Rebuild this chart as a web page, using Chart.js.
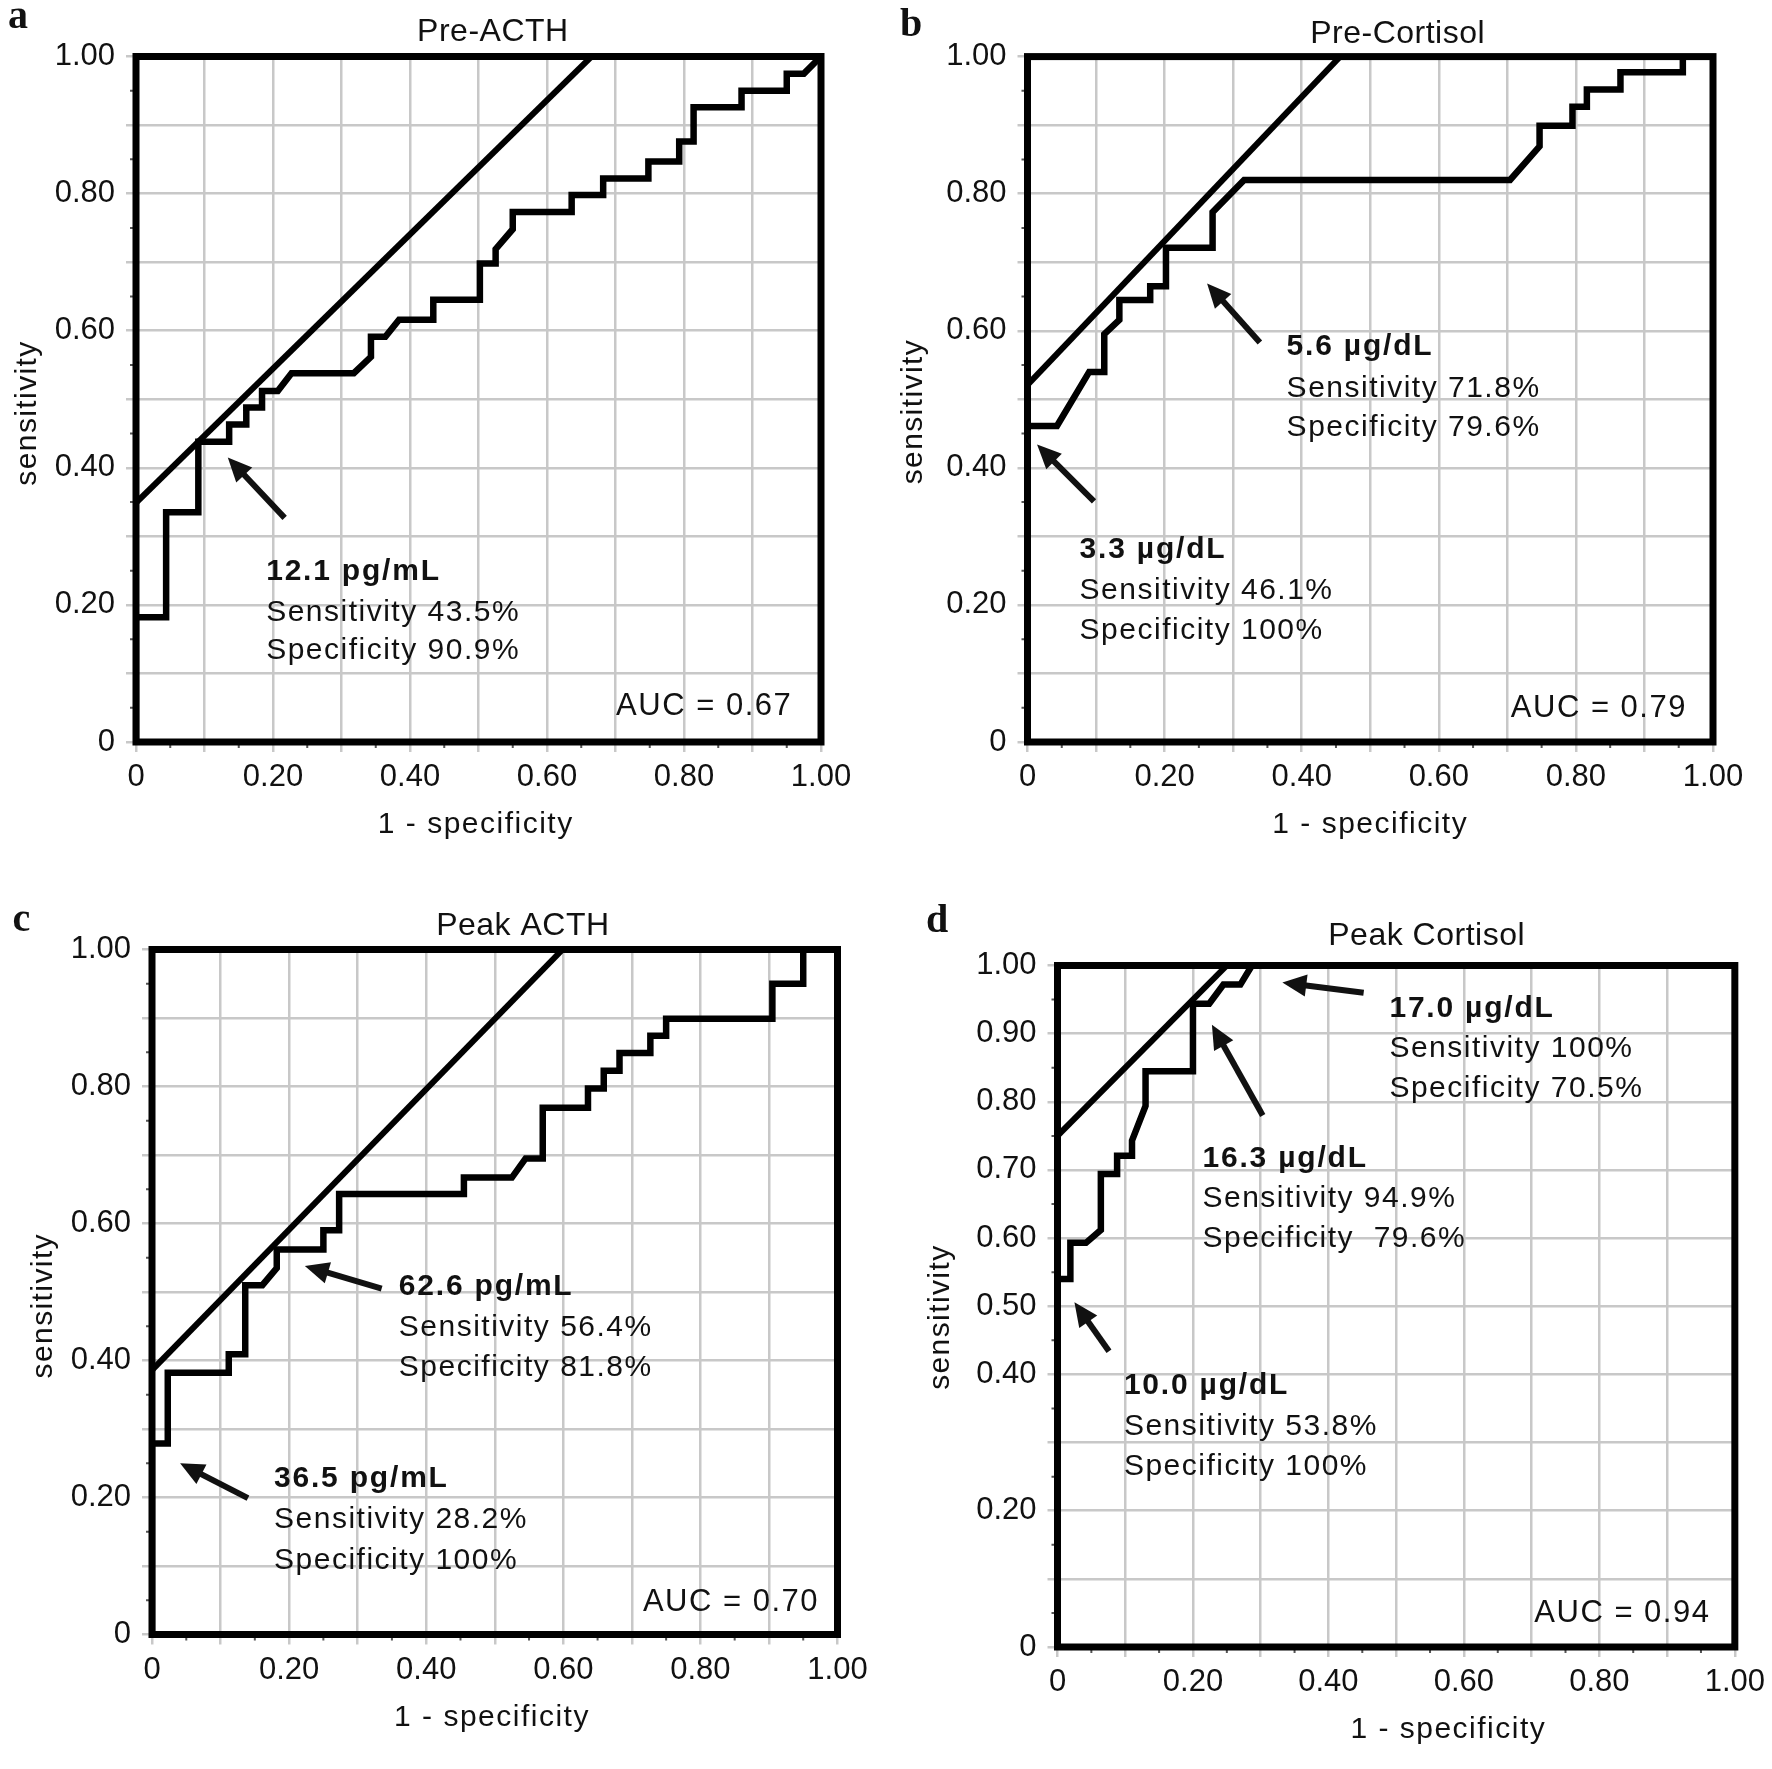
<!DOCTYPE html>
<html>
<head>
<meta charset="utf-8">
<title>ROC curves</title>
<script src="https://cdn.jsdelivr.net/npm/chart.js@4.4.1/dist/chart.umd.min.js"></script>
<style>
  body { margin: 0; background: #fff; }
  .panel { position: absolute; }
</style>
</head>
<body>
<div class="panel" style="left:0;top:0"><canvas id="chartA" width="886" height="885"></canvas></div>
<div class="panel" style="left:886px;top:0"><canvas id="chartB" width="886" height="885"></canvas></div>
<div class="panel" style="left:0;top:885px"><canvas id="chartC" width="886" height="884"></canvas></div>
<div class="panel" style="left:886px;top:885px"><canvas id="chartD" width="886" height="884"></canvas></div>
<script>
// ROC curves: 1 - specificity (fpr) against sensitivity (tpr)
const preActhFpr = [0, 0, 0.044, 0.044, 0.091, 0.091, 0.136, 0.136, 0.161, 0.161, 0.184, 0.184, 0.207, 0.227, 0.318, 0.343, 0.343, 0.364, 0.384, 0.434, 0.434, 0.502, 0.502, 0.525, 0.525, 0.55, 0.55, 0.636, 0.636, 0.682, 0.682, 0.748, 0.748, 0.793, 0.793, 0.814, 0.814, 0.884, 0.884, 0.95, 0.95, 0.975, 1];
const preActhTpr = [0, 0.182, 0.182, 0.335, 0.335, 0.438, 0.438, 0.463, 0.463, 0.488, 0.488, 0.512, 0.512, 0.538, 0.538, 0.562, 0.591, 0.591, 0.616, 0.616, 0.645, 0.645, 0.698, 0.698, 0.719, 0.748, 0.773, 0.773, 0.798, 0.798, 0.822, 0.822, 0.847, 0.847, 0.876, 0.876, 0.926, 0.926, 0.95, 0.95, 0.975, 0.975, 1];

const preCortisolFpr = [0, 0, 0.043, 0.090, 0.112, 0.112, 0.134, 0.134, 0.179, 0.179, 0.202, 0.202, 0.270, 0.270, 0.316, 0.704, 0.747, 0.747, 0.795, 0.795, 0.816, 0.816, 0.865, 0.865, 0.956, 0.956, 1];
const preCortisolTpr = [0, 0.461, 0.461, 0.540, 0.540, 0.595, 0.616, 0.645, 0.645, 0.665, 0.665, 0.721, 0.721, 0.773, 0.820, 0.820, 0.869, 0.899, 0.899, 0.927, 0.927, 0.952, 0.952, 0.977, 0.977, 1, 1];

const peakActhFpr = [0, 0, 0.023, 0.023, 0.112, 0.112, 0.136, 0.136, 0.161, 0.182, 0.182, 0.250, 0.250, 0.273, 0.273, 0.455, 0.455, 0.525, 0.545, 0.570, 0.570, 0.636, 0.636, 0.659, 0.659, 0.682, 0.682, 0.727, 0.727, 0.750, 0.750, 0.905, 0.905, 0.950, 0.950, 1];
const peakActhTpr = [0, 0.279, 0.279, 0.382, 0.382, 0.409, 0.409, 0.510, 0.510, 0.535, 0.562, 0.562, 0.590, 0.590, 0.643, 0.643, 0.667, 0.667, 0.695, 0.695, 0.769, 0.769, 0.797, 0.797, 0.823, 0.823, 0.849, 0.849, 0.874, 0.874, 0.899, 0.899, 0.950, 0.950, 1, 1];

const peakCortisolFpr = [0, 0, 0.019, 0.019, 0.042, 0.064, 0.064, 0.088, 0.088, 0.110, 0.110, 0.130, 0.130, 0.200, 0.200, 0.224, 0.245, 0.270, 0.287, 1];
const peakCortisolTpr = [0, 0.540, 0.540, 0.593, 0.593, 0.612, 0.694, 0.694, 0.721, 0.721, 0.743, 0.794, 0.845, 0.845, 0.944, 0.944, 0.972, 0.972, 1, 1];

// straight lines touching the curves at the chosen cut-offs
const preActhTangentX = [0, 0.665];
const preActhTangentY = [0.349, 1];
const preCortisolTangentX = [0, 0.456];
const preCortisolTangentY = [0.521, 1];
const peakActhTangentX = [0, 0.599];
const peakActhTangentY = [0.386, 1];
const peakCortisolTangentX = [0, 0.25];
const peakCortisolTangentY = [0.75, 1];

// panel texts
const panelTitles = ["Pre-ACTH", "Pre-Cortisol", "Peak ACTH", "Peak Cortisol"];
const panelLetters = ["a", "b", "c", "d"];
const aucLabels = ["AUC = 0.67", "AUC = 0.79", "AUC = 0.70", "AUC = 0.94"];
const preActhCutoffs = [["12.1 pg/mL", "Sensitivity 43.5%", "Specificity 90.9%"]];
const preCortisolCutoffs = [
    ["5.6 µg/dL", "Sensitivity 71.8%", "Specificity 79.6%"],
    ["3.3 µg/dL", "Sensitivity 46.1%", "Specificity 100%"]
];
const peakActhCutoffs = [
    ["62.6 pg/mL", "Sensitivity 56.4%", "Specificity 81.8%"],
    ["36.5 pg/mL", "Sensitivity 28.2%", "Specificity 100%"]
];
const peakCortisolCutoffs = [
    ["17.0 µg/dL", "Sensitivity 100%", "Specificity 70.5%"],
    ["16.3 µg/dL", "Sensitivity 94.9%", "Specificity  79.6%"],
    ["10.0 µg/dL", "Sensitivity 53.8%", "Specificity 100%"]
];

// tick labels
const axisTickLabels = ["0", "0.20", "0.40", "0.60", "0.80", "1.00"];
const peakCortisolYTickLabels = ["0", "0.20", "0.40", "0.50", "0.60", "0.70", "0.80", "0.90", "1.00"];

const FONT = '"Liberation Sans", Arial, sans-serif';

function tickText(value, labels) {
    const txt = value === 0 ? "0" : (Math.round(value * 100) / 100).toFixed(2);
    return labels.includes(txt) ? txt : "";
}

// draw text with extra letter spacing where the browser supports it
function spacedText(ctx, text, x, y, spacing) {
    if ("letterSpacing" in ctx) ctx.letterSpacing = spacing + "px";
    ctx.fillText(text, x, y);
    if ("letterSpacing" in ctx) ctx.letterSpacing = "0px";
}

function drawArrow(ctx, x0, y0, x1, y1) {
    const ang = Math.atan2(y1 - y0, x1 - x0);
    const headLen = 24, headHalf = 11;
    const bx = x1 - headLen * Math.cos(ang);
    const by = y1 - headLen * Math.sin(ang);
    ctx.lineWidth = 6;
    ctx.lineCap = "butt";
    ctx.beginPath();
    ctx.moveTo(x0, y0);
    ctx.lineTo(bx + 2 * Math.cos(ang), by + 2 * Math.sin(ang));
    ctx.stroke();
    ctx.beginPath();
    ctx.moveTo(x1, y1);
    ctx.lineTo(bx + headHalf * Math.sin(ang), by - headHalf * Math.cos(ang));
    ctx.lineTo(bx - headHalf * Math.sin(ang), by + headHalf * Math.cos(ang));
    ctx.closePath();
    ctx.fill();
}

// frame, minor ticks, titles, arrows and cut-off notes
const rocDecor = {
    id: "rocDecor",
    afterDatasetsDraw(chart, args, opts) {
        const { ctx, chartArea: a, scales: { x, y } } = chart;
        ctx.save();

        // minor ticks at the half steps
        ctx.strokeStyle = "#555";
        ctx.lineWidth = 2;
        ctx.beginPath();
        for (let k = 0; k < 10; k++) {
            const v = 0.05 + k * 0.1;
            const px = x.getPixelForValue(v);
            const py = y.getPixelForValue(v);
            ctx.moveTo(px, a.bottom);
            ctx.lineTo(px, a.bottom + 6);
            ctx.moveTo(a.left, py);
            ctx.lineTo(a.left - 6, py);
        }
        ctx.stroke();

        // thick frame round the plot
        ctx.strokeStyle = "#000";
        ctx.lineWidth = 7;
        ctx.lineJoin = "miter";
        ctx.strokeRect(a.left, a.top, a.right - a.left, a.bottom - a.top);

        ctx.fillStyle = "#111";
        ctx.strokeStyle = "#111";

        // panel letter
        ctx.font = 'bold 40px "Liberation Serif", "Times New Roman", serif';
        ctx.textAlign = "left";
        ctx.textBaseline = "alphabetic";
        ctx.fillText(opts.letter, opts.letterPos[0], opts.letterPos[1]);

        // title above the plot
        ctx.font = "32px " + FONT;
        ctx.textAlign = "center";
        spacedText(ctx, opts.title, a.left + opts.titlePos[0] * (a.right - a.left), opts.titlePos[1], 0.5);

        // axis titles
        ctx.font = "30px " + FONT;
        spacedText(ctx, "1 - specificity", x.getPixelForValue(opts.xTitleAt), a.bottom + 91, 1.5);
        ctx.save();
        ctx.translate(opts.yTitlePos[0], y.getPixelForValue(opts.yTitlePos[1]));
        ctx.rotate(-Math.PI / 2);
        ctx.textBaseline = "middle";
        spacedText(ctx, "sensitivity", 0, 0, 1.4);
        ctx.restore();

        // arrows and cut-off notes
        opts.notes.forEach((lines, i) => {
            const pos = opts.notePos[i];
            drawArrow(ctx,
                x.getPixelForValue(pos.tail[0]), y.getPixelForValue(pos.tail[1]),
                x.getPixelForValue(pos.head[0]), y.getPixelForValue(pos.head[1]));
            ctx.textAlign = "left";
            ctx.textBaseline = "alphabetic";
            lines.forEach((line, j) => {
                ctx.font = (j === 0 ? "bold " : "") + "30px " + FONT;
                spacedText(ctx, line, x.getPixelForValue(pos.textX), y.getPixelForValue(pos.baselines[j]), j === 0 ? 1.8 : 1.5);
            });
        });

        // AUC in the lower right corner
        ctx.font = "31px " + FONT;
        ctx.textAlign = "right";
        ctx.textBaseline = "alphabetic";
        spacedText(ctx, opts.auc, x.getPixelForValue(opts.aucPos[0]), y.getPixelForValue(opts.aucPos[1]), 1.5);

        ctx.restore();
    }
};

function makeRoc(canvasId, fpr, tpr, tanX, tanY, box, yLabels, decor) {
    const canvas = document.getElementById(canvasId);
    const W = canvas.width, H = canvas.height;
    const tickFont = { family: FONT, size: 31 };
    const gridStyle = { color: "#c8c8c8", lineWidth: 2.5, tickLength: 10, tickColor: "#c8c8c8", tickWidth: 2.5 };

    return new Chart(canvas.getContext("2d"), {
        type: "scatter",
        data: {
            datasets: [
                {
                    data: fpr.map((v, i) => ({ x: v, y: tpr[i] })),
                    showLine: true,
                    borderColor: "#000",
                    borderWidth: 6.5,
                    borderJoinStyle: "miter",
                    pointRadius: 0,
                    tension: 0
                },
                {
                    data: tanX.map((v, i) => ({ x: v, y: tanY[i] })),
                    showLine: true,
                    borderColor: "#000",
                    borderWidth: 6,
                    pointRadius: 0
                }
            ]
        },
        options: {
            responsive: false,
            animation: false,
            events: [],
            layout: { padding: { left: 0, top: box.top, right: W - box.right, bottom: 0 } },
            plugins: {
                legend: { display: false },
                tooltip: { enabled: false },
                rocDecor: decor
            },
            scales: {
                x: {
                    type: "linear",
                    min: 0,
                    max: 1,
                    afterFit: (scale) => { scale.height = H - box.bottom; },
                    ticks: {
                        stepSize: 0.1,
                        autoSkip: false,
                        maxRotation: 0,
                        padding: 7,
                        color: "#111",
                        font: tickFont,
                        callback: (v) => tickText(v, axisTickLabels)
                    },
                    grid: gridStyle,
                    border: { display: false }
                },
                y: {
                    type: "linear",
                    min: 0,
                    max: 1,
                    afterFit: (scale) => { scale.width = box.left; },
                    ticks: {
                        stepSize: 0.1,
                        autoSkip: false,
                        padding: 11,
                        color: "#111",
                        font: tickFont,
                        callback: (v) => tickText(v, yLabels)
                    },
                    grid: gridStyle,
                    border: { display: false }
                }
            }
        },
        plugins: [rocDecor]
    });
}

makeRoc("chartA", preActhFpr, preActhTpr, preActhTangentX, preActhTangentY,
    { left: 136, top: 56.5, right: 821, bottom: 742 }, axisTickLabels, {
        letter: panelLetters[0], letterPos: [8, 28],
        title: panelTitles[0], titlePos: [0.521, 41],
        xTitleAt: 0.496, yTitlePos: [28, 0.48],
        auc: aucLabels[0], aucPos: [0.958, 0.04],
        notes: preActhCutoffs,
        notePos: [
            { textX: 0.19, baselines: [0.237, 0.177, 0.121], tail: [0.217, 0.327], head: [0.134, 0.415] }
        ]
    });

makeRoc("chartB", preCortisolFpr, preCortisolTpr, preCortisolTangentX, preCortisolTangentY,
    { left: 141.5, top: 56.6, right: 827, bottom: 742 }, axisTickLabels, {
        letter: panelLetters[1], letterPos: [14, 36],
        title: panelTitles[1], titlePos: [0.54, 42.5],
        xTitleAt: 0.50, yTitlePos: [28, 0.482],
        auc: aucLabels[1], aucPos: [0.962, 0.036],
        notes: preCortisolCutoffs,
        notePos: [
            { textX: 0.378, baselines: [0.564, 0.504, 0.446], tail: [0.339, 0.583], head: [0.262, 0.669] },
            { textX: 0.076, baselines: [0.269, 0.208, 0.150], tail: [0.097, 0.351], head: [0.014, 0.434] }
        ]
    });

makeRoc("chartC", peakActhFpr, peakActhTpr, peakActhTangentX, peakActhTangentY,
    { left: 152, top: 64.5, right: 837.5, bottom: 749.5 }, axisTickLabels, {
        letter: panelLetters[2], letterPos: [12.5, 46],
        title: panelTitles[2], titlePos: [0.541, 50],
        xTitleAt: 0.496, yTitlePos: [44, 0.48],
        auc: aucLabels[2], aucPos: [0.973, 0.034],
        notes: peakActhCutoffs,
        notePos: [
            { textX: 0.36, baselines: [0.496, 0.436, 0.378], tail: [0.335, 0.505], head: [0.223, 0.538] },
            { textX: 0.178, baselines: [0.215, 0.155, 0.095], tail: [0.140, 0.199], head: [0.041, 0.250] }
        ]
    });

makeRoc("chartD", peakCortisolFpr, peakCortisolTpr, peakCortisolTangentX, peakCortisolTangentY,
    { left: 171.5, top: 80.5, right: 853.5, bottom: 762 }, peakCortisolYTickLabels, {
        letter: panelLetters[3], letterPos: [40, 47],
        title: panelTitles[3], titlePos: [0.545, 59.5],
        xTitleAt: 0.577, yTitlePos: [55, 0.484],
        auc: aucLabels[3], aucPos: [0.964, 0.037],
        notes: peakCortisolCutoffs,
        notePos: [
            { textX: 0.49, baselines: [0.925, 0.866, 0.807], tail: [0.452, 0.960], head: [0.332, 0.975] },
            { textX: 0.214, baselines: [0.705, 0.645, 0.587], tail: [0.303, 0.780], head: [0.228, 0.913] },
            { textX: 0.098, baselines: [0.371, 0.311, 0.253], tail: [0.076, 0.434], head: [0.025, 0.506] }
        ]
    });
</script>
</body>
</html>
